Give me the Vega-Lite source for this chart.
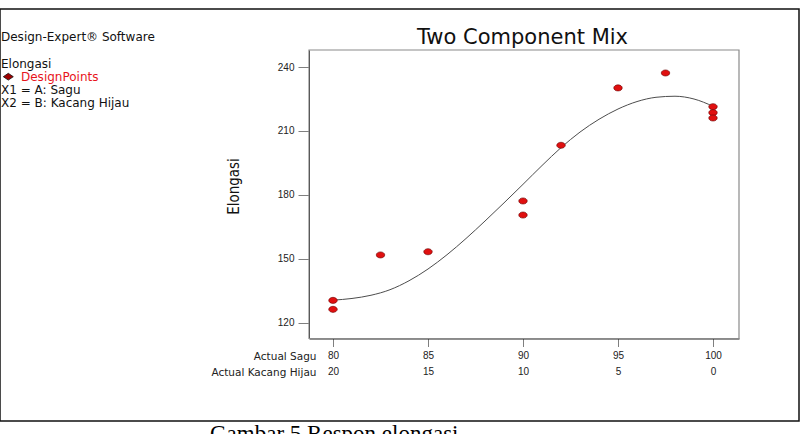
{
  "$schema": "https://vega.github.io/schema/vega-lite/v6.json",
  "width": 799,
  "height": 412,
  "autosize": {"type": "none"},
  "padding": {"left": 0, "top": 9, "right": 3, "bottom": 13},
  "background": "white",
  "config": {"view": {"stroke": "#111111", "strokeWidth": 1.5}},
  "title": {
    "text": "Two Component Mix",
    "font": "DejaVu Sans",
    "fontSize": 21,
    "fontWeight": "normal",
    "color": "#111111",
    "anchor": "middle",
    "frame": "group",
    "dx": 123,
    "offset": -56,
    "baseline": "alphabetic"
  },
  "datasets": {
    "points": [
      {"sagu": 80, "kacang": 20, "elongasi": 130.6},
      {"sagu": 80, "kacang": 20, "elongasi": 126.4},
      {"sagu": 82.5, "kacang": 17.5, "elongasi": 151.9},
      {"sagu": 85, "kacang": 15, "elongasi": 153.4},
      {"sagu": 90, "kacang": 10, "elongasi": 177.2},
      {"sagu": 90, "kacang": 10, "elongasi": 170.6},
      {"sagu": 92, "kacang": 8, "elongasi": 203.3},
      {"sagu": 95, "kacang": 5, "elongasi": 230.2},
      {"sagu": 97.5, "kacang": 2.5, "elongasi": 237.2},
      {"sagu": 100, "kacang": 0, "elongasi": 221.4},
      {"sagu": 100, "kacang": 0, "elongasi": 218.6},
      {"sagu": 100, "kacang": 0, "elongasi": 216.1}
    ],
    "curve": [
      {"sagu": 80, "elongasi": 130.7},
      {"sagu": 81, "elongasi": 131.5},
      {"sagu": 82, "elongasi": 133.0},
      {"sagu": 83, "elongasi": 135.6},
      {"sagu": 84, "elongasi": 139.8},
      {"sagu": 85, "elongasi": 145.3},
      {"sagu": 86, "elongasi": 152.0},
      {"sagu": 87, "elongasi": 159.6},
      {"sagu": 88, "elongasi": 167.8},
      {"sagu": 89, "elongasi": 176.3},
      {"sagu": 90, "elongasi": 185.0},
      {"sagu": 91, "elongasi": 193.8},
      {"sagu": 92, "elongasi": 202.2},
      {"sagu": 93, "elongasi": 209.5},
      {"sagu": 94, "elongasi": 215.5},
      {"sagu": 95, "elongasi": 220.3},
      {"sagu": 96, "elongasi": 223.8},
      {"sagu": 97, "elongasi": 225.8},
      {"sagu": 98, "elongasi": 226.3},
      {"sagu": 99, "elongasi": 225.0},
      {"sagu": 100, "elongasi": 221.6}
    ],
    "block": [
      {"line": 1, "indent": 0, "label": "Design-Expert® Software", "kind": "plain"},
      {"line": 3, "indent": 0, "label": "Elongasi", "kind": "plain"},
      {"line": 4, "indent": 1, "label": "DesignPoints", "kind": "design"},
      {"line": 5, "indent": 0, "label": "X1 = A: Sagu", "kind": "plain"},
      {"line": 6, "indent": 0, "label": "X2 = B: Kacang Hijau", "kind": "plain"}
    ],
    "symbol": [
      {"line": 4, "indent": 0.365}
    ],
    "caption": [
      {"line": 31.6, "indent": 10.45, "label": "Gambar 5 Respon elongasi"}
    ]
  },
  "layer": [
    {
      "layer": [
        {
          "data": {"values": [{}]},
          "mark": {"type": "rect", "fill": "transparent", "stroke": "#8a8a8a", "strokeWidth": 1.2},
          "encoding": {
            "x": {
              "datum": 78.737,
              "type": "quantitative",
              "scale": {"domain": [78.737, 101.368], "range": [309, 739], "nice": false, "zero": false},
              "axis": {
                "orient": "bottom",
                "offset": -82.5,
                "values": [80, 85, 90, 95, 100],
                "labelExpr": "[datum.label, format(100 - datum.value, 'd')]",
                "labelLineHeight": 16,
                "labelBaseline": "top",
                "labelPadding": 4,
                "labelFont": "Liberation Sans",
                "labelFontSize": 10,
                "labelColor": "#222222",
                "labelFlush": false,
                "labelOverlap": false,
                "tickColor": "#7f7f7f",
                "tickSize": 8,
                "domainColor": "#222222",
                "grid": false,
                "title": ["Actual Sagu", "Actual Kacang Hijau"],
                "titleX": 316,
                "titleY": 12.5,
                "titleAlign": "right",
                "titleAnchor": null,
                "titleBaseline": "top",
                "titleLineHeight": 16,
                "titleFont": "DejaVu Sans",
                "titleFontSize": 10.5,
                "titleFontWeight": "normal",
                "titleColor": "#222222"
              }
            },
            "x2": {"datum": 101.368},
            "y": {
              "datum": 112.73,
              "type": "quantitative",
              "scale": {"domain": [112.73, 247.97], "range": [329.5, 41], "nice": false, "zero": false},
              "axis": {
                "orient": "left",
                "offset": -309,
                "values": [120, 150, 180, 210, 240],
                "tickSize": 11,
                "tickColor": "#7f7f7f",
                "labelPadding": 4,
                "labelFont": "Liberation Sans",
                "labelFontSize": 10,
                "labelColor": "#222222",
                "domainColor": "#111111",
                "grid": false,
                "title": "Elongasi",
                "titleFont": "DejaVu Sans Condensed, Liberation Sans",
                "titleFontSize": 15,
                "titleFontWeight": "normal",
                "titleColor": "#111111",
                "titleX": -71,
                "titleY": 177,
                "titleAngle": 270,
                "titleAlign": "center",
                "titleBaseline": "alphabetic"
              }
            },
            "y2": {"datum": 247.97}
          }
        },
        {
          "data": {"name": "curve"},
          "mark": {"type": "line", "interpolate": "monotone", "color": "#4d4d4d", "strokeWidth": 1},
          "encoding": {
            "x": {"field": "sagu", "type": "quantitative"},
            "y": {"field": "elongasi", "type": "quantitative"}
          }
        },
        {
          "data": {"name": "points"},
          "mark": {
            "type": "point",
            "shape": "M-1,0A1,0.72,0,1,1,1,0A1,0.72,0,1,1,-1,0Z",
            "size": 72,
            "filled": true,
            "fill": "#e01010",
            "stroke": "#6a0000",
            "strokeWidth": 0.6,
            "opacity": 1
          },
          "encoding": {
            "x": {"field": "sagu", "type": "quantitative"},
            "y": {"field": "elongasi", "type": "quantitative"}
          }
        }
      ]
    },
    {
      "layer": [
        {
          "data": {"name": "block"},
          "mark": {"type": "text", "align": "left", "baseline": "middle", "font": "DejaVu Sans", "fontSize": 12},
          "encoding": {
            "x": {"field": "indent", "type": "quantitative", "scale": {"domain": [0, 1], "range": [1, 21], "nice": false, "zero": false}, "axis": null},
            "y": {"field": "line", "type": "quantitative", "scale": {"domain": [-1.129, 30.083], "range": [0, 412], "nice": false, "zero": false}, "axis": null},
            "text": {"field": "label"},
            "color": {"field": "kind", "type": "nominal", "scale": {"domain": ["plain", "design"], "range": ["#111111", "#e8141c"]}, "legend": null}
          }
        },
        {
          "data": {"name": "symbol"},
          "mark": {"type": "point", "shape": "M-1,0L0,-0.68L1,0L0,0.68Z", "size": 100, "filled": true, "fill": "#a00000", "stroke": "#111111", "strokeWidth": 0.8, "opacity": 1},
          "encoding": {
            "x": {"field": "indent", "type": "quantitative"},
            "y": {"field": "line", "type": "quantitative"}
          }
        },
        {
          "data": {"name": "caption"},
          "mark": {"type": "text", "align": "left", "baseline": "alphabetic", "font": "Liberation Serif", "fontSize": 23, "color": "#000000"},
          "encoding": {
            "x": {"field": "indent", "type": "quantitative"},
            "y": {"field": "line", "type": "quantitative"},
            "text": {"field": "label"}
          }
        }
      ]
    }
  ],
  "resolve": {"scale": {"x": "independent", "y": "independent"}}
}
